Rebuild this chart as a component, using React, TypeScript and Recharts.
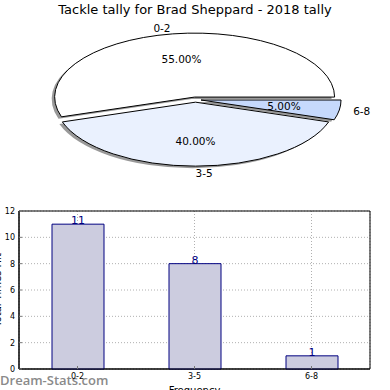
import { PieChart, Pie, BarChart, Bar, XAxis, YAxis, CartesianGrid, LabelList, ReferenceArea } from 'recharts'

const categories = ['0-2', '3-5', '6-8']
const tallies = [11, 8, 1]
const sliceColors = ['#ffffff', '#eaf1fe', '#c6d9fc']
const yTicks = [0, 2, 4, 6, 8, 10, 12]

const data = categories.map((name, i) => ({ name, value: tallies[i] }))

const FONT = '"DejaVu Sans", sans-serif'
const SQUASH = 0.457 // pie is drawn as an ellipse, like the squashed matplotlib axes
const EXPLODE = 0.04
const RAD = Math.PI / 180

// draws each wedge (shadow, wedge, % text, name) as an ellipse from the sector angles
function Slice(props: any) {
  const { cx, cy, startAngle, endAngle, midAngle, outerRadius, percent, index } = props
  const rx = outerRadius
  const ry = outerRadius * SQUASH
  const ox = cx + EXPLODE * rx * Math.cos(midAngle * RAD)
  const oy = cy - EXPLODE * ry * Math.sin(midAngle * RAD)
  const pt = (a: number, f: number) => [ox + f * rx * Math.cos(a * RAD), oy - f * ry * Math.sin(a * RAD)]
  const [x1, y1] = pt(startAngle, 1)
  const [x2, y2] = pt(endAngle, 1)
  const large = endAngle - startAngle > 180 ? 1 : 0
  const d = `M${ox},${oy} L${x1},${y1} A${rx},${ry} 0 ${large} 0 ${x2},${y2} Z`
  const [px, py] = pt(midAngle, 0.6)
  const [lx, ly] = pt(midAngle, 1.1)
  const anchor = Math.cos(midAngle * RAD) >= -1e-9 ? 'start' : 'end'
  return (
    <g>
      <path d={d} transform="translate(-3,2)" fill="#000" fillOpacity={0.4} stroke="none" />
      <path d={d} fill={sliceColors[index]} stroke="#000" strokeWidth={1} />
      <text x={px} y={py} textAnchor="middle" dominantBaseline="central" fontSize={10.5} fontFamily={FONT} fill="#000">
        {(percent * 100).toFixed(2)}%
      </text>
      <text x={lx} y={ly} textAnchor={anchor} dominantBaseline="central" fontSize={10.5} fontFamily={FONT} fill="#000">
        {categories[index]}
      </text>
    </g>
  )
}

const tickStyle = { fontSize: 8, fill: '#000', fontFamily: FONT }

export default function App() {
  return (
    <div style={{ position: 'absolute', left: 0, top: 0, width: 390, height: 390, overflow: 'hidden', background: '#fff' }}>
      <div style={{ position: 'absolute', top: 2, left: 0, width: 390, textAlign: 'center', fontFamily: FONT, fontSize: 13, lineHeight: '16px', color: '#000' }}>
        Tackle tally for Brad Sheppard - 2018 tally
      </div>
      <div style={{ position: 'absolute', top: 0, left: 0 }}>
        <PieChart width={390} height={200} margin={{ top: 0, right: 0, bottom: 0, left: 0 }}>
          <Pie
            data={data}
            dataKey="value"
            nameKey="name"
            cx={195.5}
            cy={99.6}
            outerRadius={140}
            startAngle={0}
            endAngle={360}
            fill="none"
            stroke="none"
            label={Slice}
            labelLine={false}
            isAnimationActive={false}
          />
        </PieChart>
      </div>
      <div style={{ position: 'absolute', top: 372, left: 0, fontFamily: '"Open Sans", sans-serif', fontWeight: 600, fontSize: 13, color: '#8a8a8a', lineHeight: '16px' }}>
        Dream-Stats.com
      </div>
      <div style={{ position: 'absolute', top: 200, left: 0 }}>
        <BarChart width={390} height={190} data={data} margin={{ top: 11, right: 20, bottom: 0, left: 0 }}>
          <CartesianGrid stroke="#b0b0b0" strokeDasharray="1 2" />
          <XAxis
            dataKey="name"
            height={21}
            interval={0}
            tick={tickStyle}
            tickSize={-3}
            tickMargin={7}
            axisLine={{ stroke: '#000' }}
            tickLine={{ stroke: '#777' }}
            label={{ value: 'Frequency', position: 'insideBottom', offset: -4, fontSize: 10, fontFamily: FONT, fill: '#000' }}
          />
          <YAxis
            domain={[0, 12]}
            ticks={yTicks}
            width={19}
            tick={tickStyle}
            tickSize={-3}
            tickMargin={7}
            axisLine={{ stroke: '#000' }}
            tickLine={{ stroke: '#777' }}
            label={{
              content: () => (
                <text x={-3} y={90} transform="rotate(-90,-3,90)" textAnchor="middle" dominantBaseline="central" fontSize={10} fontFamily={FONT} fill="#000">
                  Total Times Hit
                </text>
              ),
            }}
          />
          <ReferenceArea y1={0} y2={12} fill="none" stroke="#000" strokeWidth={1} fillOpacity={0} />
          <Bar dataKey="value" barSize={52} fill="#ccccdf" stroke="#000080" strokeWidth={1} isAnimationActive={false}>
            <LabelList dataKey="value" position="top" offset={0} fill="#000080" fontSize={11} fontFamily={FONT} />
          </Bar>
        </BarChart>
      </div>
    </div>
  )
}
